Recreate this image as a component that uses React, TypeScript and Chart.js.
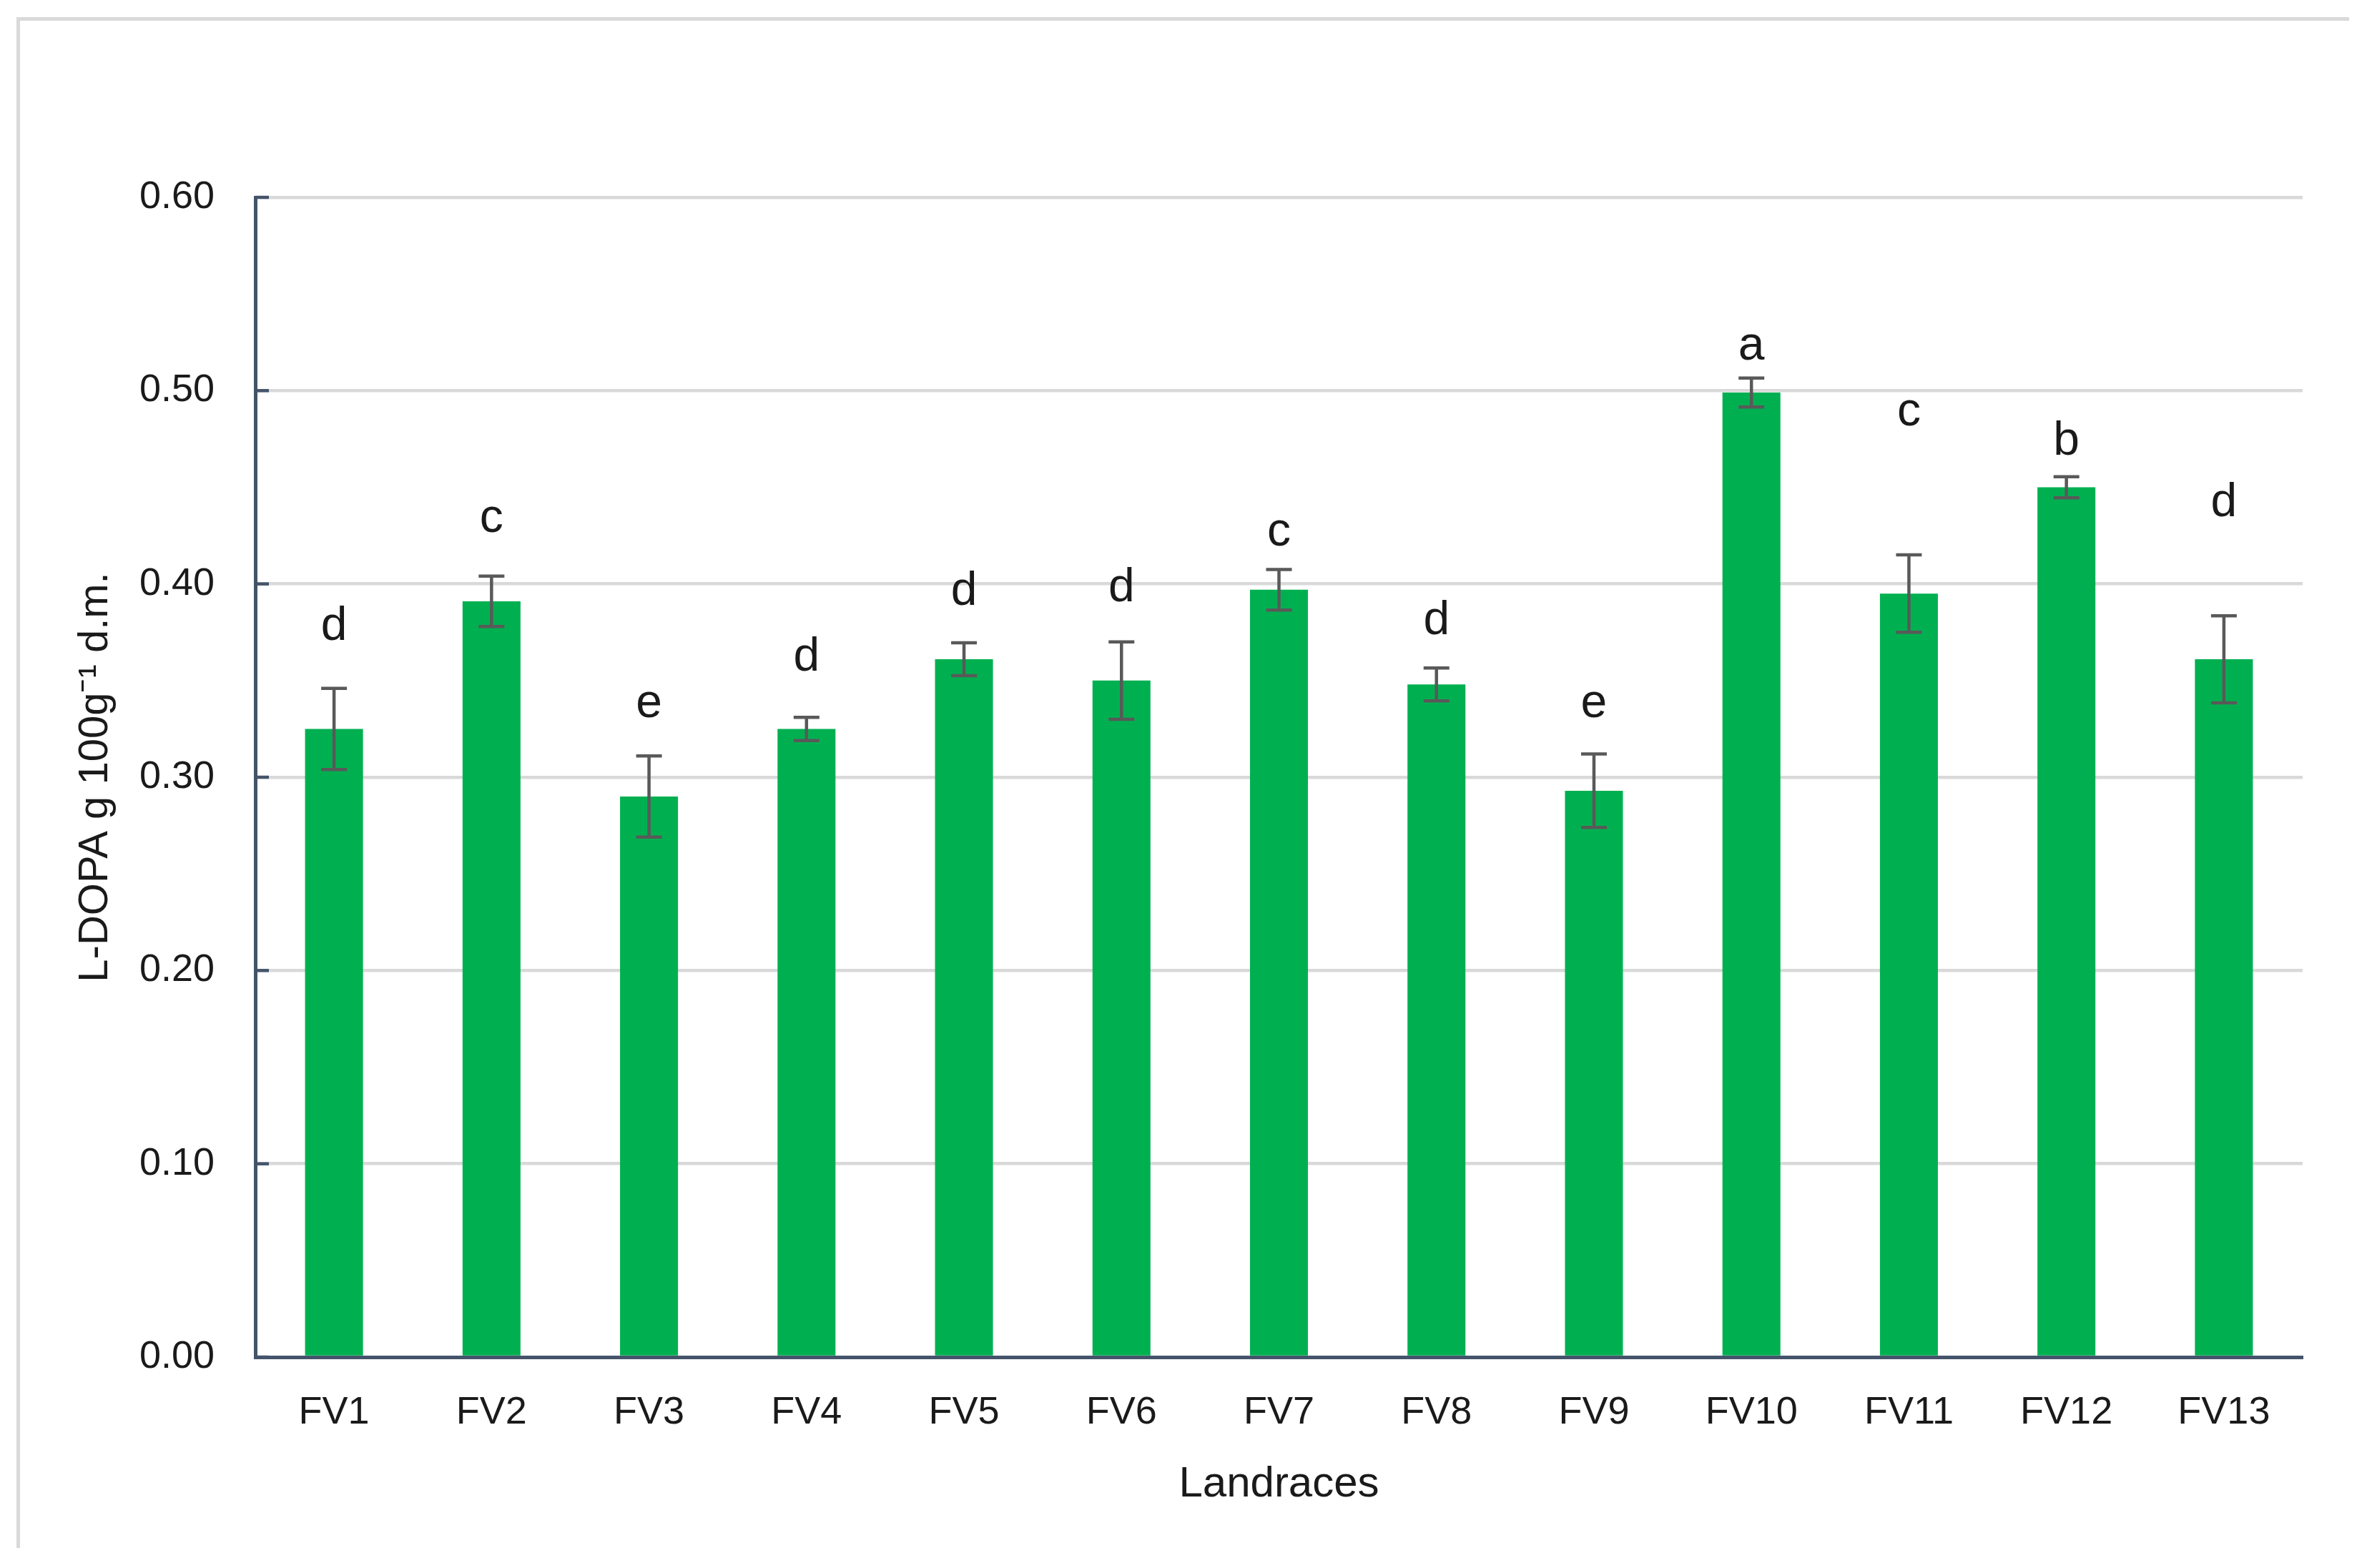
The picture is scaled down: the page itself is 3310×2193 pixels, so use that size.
import React, { useEffect, useRef } from 'react';
import { Chart, registerables } from 'chart.js';

Chart.register(...registerables);

const categories = ['FV1', 'FV2', 'FV3', 'FV4', 'FV5', 'FV6', 'FV7', 'FV8', 'FV9', 'FV10', 'FV11', 'FV12', 'FV13'];
const meanValues = [0.325, 0.391, 0.29, 0.325, 0.361, 0.35, 0.397, 0.348, 0.293, 0.499, 0.395, 0.45, 0.361];
const errorValues = [0.021, 0.013, 0.021, 0.006, 0.0085, 0.02, 0.0105, 0.0085, 0.019, 0.0075, 0.02, 0.0055, 0.0225];
const groupLetters = ['d', 'c', 'e', 'd', 'd', 'd', 'c', 'd', 'e', 'a', 'c', 'b', 'd'];
const letterLevels = [0.371, 0.427, 0.331, 0.355, 0.389, 0.391, 0.42, 0.374, 0.331, 0.516, 0.482, 0.467, 0.435];
const yMin = 0;
const yMax = 0.6;
const yStep = 0.1;
const yTitle = 'L-DOPA g 100g\u207B\u00B9 d.m.';
const xTitle = 'Landraces';

const FONT = "'Liberation Sans', Arial, sans-serif";
const TEXT = '#1a1a1a';
const AXIS = '#44546A';
const GRID = '#D9D9D9';
const BAR = '#00B050';
const ERR = '#595959';

const framePlugin = {
  id: 'frame',
  beforeDraw(chart: any) {
    const ctx = chart.ctx;
    ctx.save();
    ctx.fillStyle = '#ffffff';
    ctx.fillRect(0, 0, chart.width, chart.height);
    ctx.fillStyle = GRID;
    ctx.fillRect(23, 24, 3285 - 23, 5);
    ctx.fillRect(23, 24, 5, 2165 - 24);
    ctx.restore();
  },
};

const innerTicksPlugin = {
  id: 'innerTicks',
  afterDraw(chart: any) {
    const ctx = chart.ctx;
    const y = chart.scales.y;
    const left = chart.chartArea.left;
    ctx.save();
    ctx.strokeStyle = AXIS;
    ctx.lineWidth = 4.5;
    y.ticks.forEach((t: any) => {
      const py = y.getPixelForValue(t.value);
      ctx.beginPath();
      ctx.moveTo(left, py);
      ctx.lineTo(left + 19, py);
      ctx.stroke();
    });
    ctx.restore();
  },
};

const errorBarsPlugin = {
  id: 'errorBars',
  afterDatasetsDraw(chart: any) {
    const ctx = chart.ctx;
    const meta = chart.getDatasetMeta(0);
    const y = chart.scales.y;
    ctx.save();
    ctx.strokeStyle = ERR;
    ctx.lineWidth = 4.5;
    meta.data.forEach((bar: any, i: number) => {
      const x = bar.x;
      const top = y.getPixelForValue(meanValues[i] + errorValues[i]);
      const bottom = y.getPixelForValue(meanValues[i] - errorValues[i]);
      const half = 18;
      ctx.beginPath();
      ctx.moveTo(x, top);
      ctx.lineTo(x, bottom);
      ctx.moveTo(x - half, top);
      ctx.lineTo(x + half, top);
      ctx.moveTo(x - half, bottom);
      ctx.lineTo(x + half, bottom);
      ctx.stroke();
    });
    ctx.restore();
  },
};

const lettersPlugin = {
  id: 'letters',
  afterDatasetsDraw(chart: any) {
    const ctx = chart.ctx;
    const meta = chart.getDatasetMeta(0);
    const y = chart.scales.y;
    ctx.save();
    ctx.fillStyle = TEXT;
    ctx.font = `66px ${FONT}`;
    ctx.textAlign = 'center';
    ctx.textBaseline = 'alphabetic';
    meta.data.forEach((bar: any, i: number) => {
      ctx.fillText(groupLetters[i], bar.x, y.getPixelForValue(letterLevels[i]));
    });
    ctx.restore();
  },
};

export default function App() {
  const ref = useRef<HTMLCanvasElement | null>(null);

  useEffect(() => {
    if (!ref.current) return;
    const chart = new Chart(ref.current, {
      type: 'bar',
      data: {
        labels: categories,
        datasets: [
          {
            data: meanValues,
            backgroundColor: BAR,
            borderWidth: 0,
            barPercentage: 0.368,
            categoryPercentage: 1,
          },
        ],
      },
      options: {
        responsive: false,
        animation: false,
        devicePixelRatio: 1,
        layout: { padding: { left: 0, right: 90, top: 276, bottom: 0 } },
        plugins: {
          legend: { display: false },
          tooltip: { enabled: false },
        },
        scales: {
          x: {
            grid: { display: false, drawTicks: false },
            border: { display: true, color: AXIS, width: 5 },
            ticks: {
              font: { family: FONT, size: 54 },
              color: TEXT,
              padding: 46,
              maxRotation: 0,
              autoSkip: false,
            },
            title: {
              display: true,
              text: xTitle,
              font: { family: FONT, size: 60 },
              color: TEXT,
              padding: { top: 81, bottom: 81 },
            },
            afterFit: (s: any) => {
              s.height = 295;
            },
          },
          y: {
            min: yMin,
            max: yMax,
            ticks: {
              stepSize: yStep,
              font: { family: FONT, size: 54 },
              color: TEXT,
              padding: 57,
              callback: (v: any) => Number(v).toFixed(2),
            },
            grid: { color: GRID, lineWidth: 4.5, drawTicks: false },
            border: { display: true, color: AXIS, width: 5 },
            title: {
              display: true,
              text: yTitle,
              font: { family: FONT, size: 58 },
              color: TEXT,
              padding: { top: 99, bottom: 0 },
            },
            afterFit: (s: any) => {
              s.width = 357;
            },
          },
        },
      } as any,
      plugins: [framePlugin, innerTicksPlugin, errorBarsPlugin, lettersPlugin],
    });
    return () => chart.destroy();
  }, []);

  return (
    <div style={{ position: 'absolute', left: 0, top: 0, width: 3310, height: 2193, background: '#fff' }}>
      <canvas ref={ref} width={3310} height={2193} style={{ display: 'block', width: 3310, height: 2193 }} />
    </div>
  );
}
